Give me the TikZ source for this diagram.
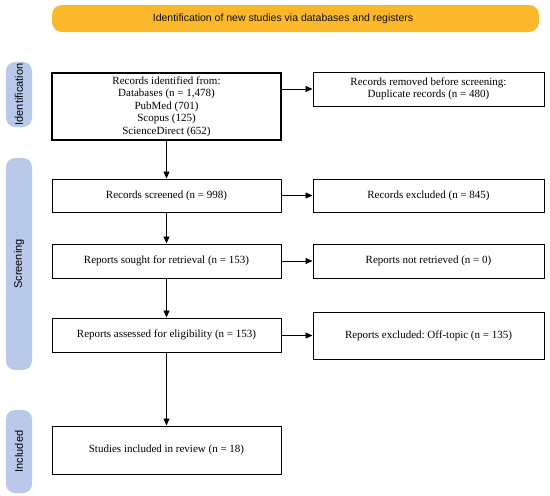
\documentclass[tikz,border=0pt]{standalone}
\usepackage{fontspec}
\setmainfont{Liberation Serif}
\newfontfamily\hdfont{Liberation Sans}
\usetikzlibrary{arrows.meta}
\definecolor{hdgold}{HTML}{FBB82A}
\definecolor{stageblue}{HTML}{B9C9EA}
\frenchspacing
\tikzset{
  x=1pt,y=-1pt,
  boxa/.style={draw=black,line width=1pt,fill=white,inner sep=0pt,align=center,font=\fontsize{11}{12.5}\selectfont},
  stagebox/.style={fill=stageblue,rounded corners=9pt,inner sep=0pt},
  stagetext/.style={rotate=90,font=\hdfont\fontsize{11}{12}\selectfont},
  arr/.style={-{Triangle[length=7pt,width=6pt]},line width=0.75pt}
}
\begin{document}
\begin{tikzpicture}
\useasboundingbox (0,0) rectangle (550,496);
\fill[white] (0,0) rectangle (550,496);
% header
\node[fill=hdgold,rounded corners=10pt,minimum width=487pt,minimum height=27pt,inner sep=0pt] (hd) at (295.5,18.5) {};
\node[font=\hdfont\fontsize{10.5}{12}\selectfont,text=black!90!brown,inner sep=0pt] (hdt) at (283,18.5) {Identification of new studies via databases and registers};
% stage labels
\node[stagebox,minimum width=26pt,minimum height=65pt] (sid) at (19,94.5) {};
\node[stagetext] (tid) at (sid.center) {Identification};
\node[stagebox,minimum width=26pt,minimum height=212pt] (ssc) at (19,264) {};
\node[stagetext] (tsc) at (ssc.center) {Screening};
\node[stagebox,minimum width=26pt,minimum height=83pt] (sin) at (19,451.5) {};
\node[stagetext] (tin) at (sin.center) {Included};
% main column
\node[boxa,line width=2.4pt,minimum width=229pt,minimum height=67pt] (rid) at (166.5,106.5) {Records identified from:\\Databases (n = 1,478)\\PubMed (701)\\Scopus (125)\\ScienceDirect (652)};
\node[boxa,minimum width=229pt,minimum height=33pt] (rsc) at (166.5,195.5) {Records screened (n = 998)};
\node[boxa,minimum width=229pt,minimum height=34pt] (rso) at (166.5,261) {Reports sought for retrieval (n = 153)};
\node[boxa,minimum width=229pt,minimum height=34pt] (ras) at (166.5,335) {Reports assessed for eligibility (n = 153)};
\node[boxa,minimum width=229pt,minimum height=48pt] (sti) at (166.5,450) {Studies included in review (n = 18)};
% right column
\node[boxa,minimum width=231pt,minimum height=34pt] (rrm) at (428.5,89) {Records removed before screening:\\Duplicate records (n = 480)};
\node[boxa,minimum width=231pt,minimum height=33pt] (rex) at (428.5,195.5) {Records excluded (n = 845)};
\node[boxa,minimum width=231pt,minimum height=34pt] (rnr) at (428.5,261) {Reports not retrieved (n = 0)};
\node[boxa,minimum width=231pt,minimum height=47pt] (rot) at (428.5,335.5) {Reports excluded: Off-topic (n = 135)};
% arrows
\draw[arr] (rid.south) -- (rsc.north);
\draw[arr] (rsc.south) -- (rso.north);
\draw[arr] (rso.south) -- (ras.north);
\draw[arr] (ras.south) -- (sti.north);
\draw[arr] (rid.east |- rrm.west) -- (rrm.west);
\draw[arr] (rsc.east) -- (rex.west);
\draw[arr] (rso.east) -- (rnr.west);
\draw[arr] (ras.east |- rot.west) -- (rot.west);
\end{tikzpicture}
\end{document}
